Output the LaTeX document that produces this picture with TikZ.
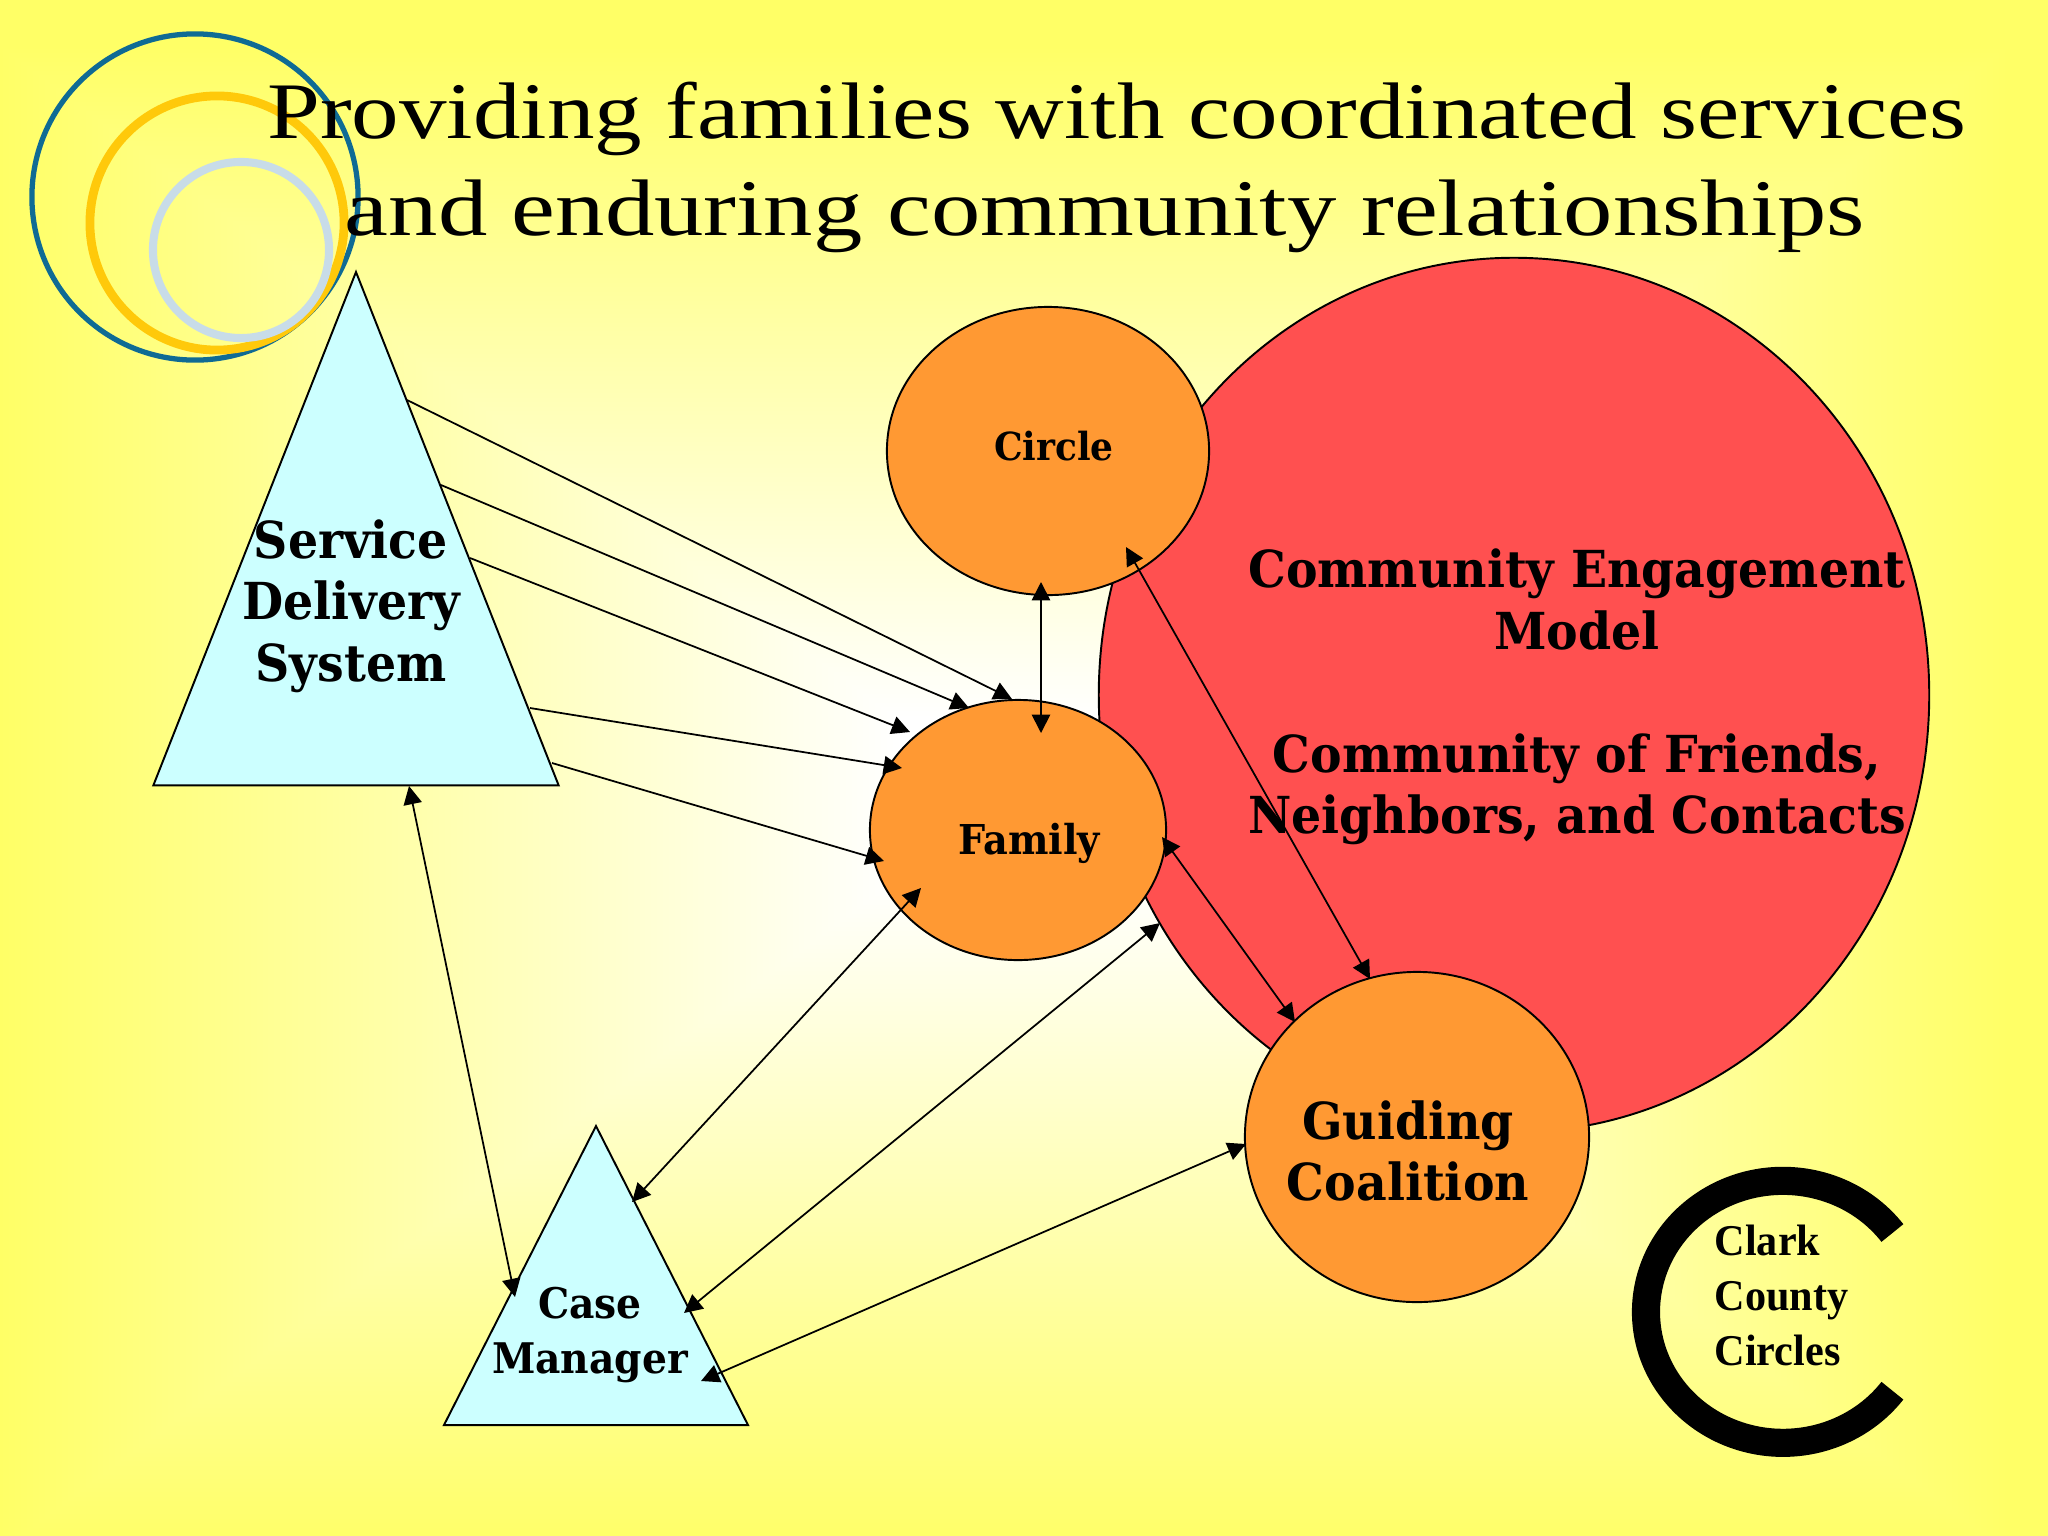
\documentclass[tikz,border=0pt]{standalone}
\usepackage{fontspec}
\usetikzlibrary{arrows.meta,shapes.geometric}
\newfontfamily\titlefont[FakeStretch=1.185]{Liberation Serif}
\newfontfamily\titlefontB[FakeStretch=1.23]{Liberation Serif}
\newfontfamily\labelfont[FakeStretch=0.93]{DejaVu Serif}
\newfontfamily\logofont[FakeStretch=0.96]{Liberation Serif}
\definecolor{ringblue}{HTML}{0F6B94}
\definecolor{ringgold}{HTML}{FFC90A}
\definecolor{ringpale}{HTML}{C8DCE8}
\definecolor{triblue}{HTML}{CCFFFF}
\definecolor{orangefill}{HTML}{FF9933}
\definecolor{redfill}{HTML}{FF5050}
\pgfdeclarefunctionalshading{slidebg}{\pgfpoint{0bp}{0bp}}{\pgfpoint{100bp}{100bp}}{}{
  49 sub abs 25 div exch 49.5 sub abs 25 div 2 copy lt {exch} if pop
  0.1 sub 0.88 div dup 0 lt {pop 0} if dup 1 gt {pop 1} if
  0.6 mul 1 exch sub 1 exch 1 exch
}
\tikzset{
  blob/.style={ellipse,draw=black,line width=0.55pt,fill=orangefill,inner sep=0pt,outer sep=0pt},
  tribox/.style={isosceles triangle,isosceles triangle stretches,shape border rotate=90,draw=black,
    line width=0.55pt,fill=triblue,inner sep=0pt,outer sep=0pt,anchor=apex},
  ring/.style={draw,circle,inner sep=0pt,outer sep=0pt},
  oneway/.style={-{Triangle[length=5.2pt,width=5.2pt]},line width=0.5pt},
  bothway/.style={{Triangle[length=5.2pt,width=5.2pt]}-{Triangle[length=5.2pt,width=5.2pt]},line width=0.5pt},
  biglabel/.style={align=center,inner sep=0pt,font=\labelfont\bfseries\fontsize{14.5}{17.5}\selectfont},
  smalllabel/.style={align=center,inner sep=0pt,font=\labelfont\bfseries\fontsize{11}{13}\selectfont},
}
\begin{document}
\begin{tikzpicture}[x=0.01cm,y=-0.01cm]
  \useasboundingbox (0,0) rectangle (2048,1536);
  \shade[shading=slidebg] (0,0) rectangle (2048,1536);
  % logo rings
  \node[ring,draw=ringblue,line width=1.5pt,minimum size=3.26cm] (ringA) at (195,197) {};
  \node[ring,draw=ringgold,line width=2.5pt,minimum size=2.54cm] (ringB) at (217,223) {};
  \node[ring,draw=ringpale,line width=2.3pt,minimum size=1.76cm] (ringC) at (241,250) {};
  % shapes
  \node[blob,fill=redfill,minimum width=8.30cm,minimum height=8.74cm] (engage) at (1514,695) {};
  \node[blob,minimum width=3.22cm,minimum height=2.88cm] (circle) at (1048,451) {};
  \node[blob,minimum width=2.96cm,minimum height=2.60cm] (family) at (1018,830) {};
  \node[blob,minimum width=3.44cm,minimum height=3.30cm] (guiding) at (1417,1137) {};
  \node[tribox,minimum width=4.05cm,minimum height=5.13cm] (service) at (356,272) {};
  \node[tribox,minimum width=3.04cm,minimum height=2.99cm] (manager) at (596,1126) {};
  % connector ends
  \coordinate (serviceA) at (407,400);
  \coordinate (serviceB) at (441,485);
  \coordinate (serviceC) at (470,558);
  \coordinate (serviceD) at (530,708);
  \coordinate (serviceE) at (552,763);
  \coordinate (serviceF) at (409,786);
  \coordinate (familyA) at (1012,699);
  \coordinate (familyB) at (969,708);
  \coordinate (familyC) at (910,732);
  \coordinate (familyD) at (902,768);
  \coordinate (familyE) at (884,861);
  \coordinate (familyF) at (1041,733);
  \coordinate (familyG) at (1162,837);
  \coordinate (familyH) at (921,888);
  \coordinate (circleA) at (1041,582);
  \coordinate (circleB) at (1126,547);
  \coordinate (guidingA) at (1370,979);
  \coordinate (guidingB) at (1295,1022);
  \coordinate (guidingC) at (1246,1144);
  \coordinate (engageA) at (1160,923);
  \coordinate (managerA) at (632,1202);
  \coordinate (managerB) at (684,1313);
  \coordinate (managerC) at (701,1381);
  \coordinate (managerD) at (515,1297);
  % connectors
  \draw[oneway] (serviceA) -- (familyA);
  \draw[oneway] (serviceB) -- (familyB);
  \draw[oneway] (serviceC) -- (familyC);
  \draw[oneway] (serviceD) -- (familyD);
  \draw[oneway] (serviceE) -- (familyE);
  \draw[bothway] (circleA) -- (familyF);
  \draw[bothway] (circleB) -- (guidingA);
  \draw[bothway] (familyG) -- (guidingB);
  \draw[bothway] (familyH) -- (managerA);
  \draw[bothway] (engageA) -- (managerB);
  \draw[bothway] (guidingC) -- (managerC);
  \draw[bothway] (serviceF) -- (managerD);
  % text
  \node[inner sep=0pt,font=\titlefont\fontsize{22.8}{27}\selectfont] (titleA) at (1117,119) {Providing families with coordinated services};
  \node[inner sep=0pt,font=\titlefontB\fontsize{22.8}{27}\selectfont] (titleB) at (1105,216) {and enduring community relationships};
  \node[biglabel] (serviceText) at (351,606) {Service\\Delivery\\System};
  \node[biglabel] (engageText) at (1577,697) {Community Engagement\\Model\\[17.5pt]Community of Friends,\\Neighbors, and Contacts};
  \node[biglabel] (guidingText) at (1408,1151) {Guiding\\Coalition};
  \node[biglabel,font=\labelfont\bfseries\fontsize{12}{15.6}\selectfont] (managerText) at (590,1335) {Case\\Manager};
  \node[smalllabel] (circleText) at (1054,446) {Circle};
  \node[smalllabel,font=\labelfont\bfseries\fontsize{11.7}{13}\selectfont] (familyText) at (1029,843) {Family};
  % county logo
  \draw[line width=8pt] (1892.4,1233) arc[start angle=-37,end angle=-323,x radius=137,y radius=131] coordinate (logoEnd);
  \node[align=left,anchor=north west,inner sep=0pt,font=\logofont\bfseries\fontsize{12.5}{15.7}\selectfont] (logoText) at (1714,1224) {Clark\\County\\Circles};
\end{tikzpicture}
\end{document}
